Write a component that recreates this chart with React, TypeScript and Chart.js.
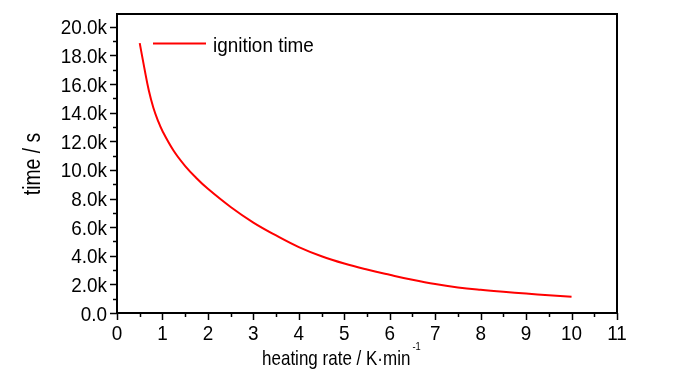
import React, { useEffect, useRef } from "react";
import { Chart, registerables } from "chart.js";

Chart.register(...registerables);

const heatingRate = [0.5, 0.6, 0.7, 0.8, 0.9, 1.0, 1.25, 1.5, 1.75, 2, 2.5, 3, 3.5, 4, 4.5, 5, 5.5, 6, 6.5, 7, 7.5, 8, 8.5, 9, 9.5, 10];
const ignitionTime = [18860, 17150, 15550, 14350, 13450, 12720, 11320, 10270, 9420, 8680, 7410, 6320, 5420, 4610, 3970, 3460, 3040, 2670, 2320, 2020, 1790, 1620, 1480, 1360, 1245, 1140];
const seriesLabel = "ignition time";
const xTickValues = [0, 1, 2, 3, 4, 5, 6, 7, 8, 9, 10, 11];
const yTickValues = [0, 2000, 4000, 6000, 8000, 10000, 12000, 14000, 16000, 18000, 20000];
const xTitle = "heating rate / K·min";
const xTitleSup = "-1";
const yTitle = "time / s";

const FONT = "'Liberation Sans', Arial, sans-serif";

function drawText(ctx: any, text: string, x: number, y: number, size: number, sx: number, align: string) {
  ctx.save();
  ctx.translate(x, y);
  ctx.scale(sx, 1);
  ctx.font = `${size}px ${FONT}`;
  ctx.textAlign = align;
  ctx.textBaseline = "alphabetic";
  ctx.fillStyle = "#000";
  ctx.fillText(text, 0, 0);
  const w = ctx.measureText(text).width * sx;
  ctx.restore();
  return w;
}

const decorPlugin = {
  id: "decor",
  afterDraw(chart: any) {
    const ctx = chart.ctx;
    const { left, right, top, bottom } = chart.chartArea;
    const xs = chart.scales.x;
    const ys = chart.scales.y;
    ctx.save();
    ctx.strokeStyle = "#000";
    ctx.lineWidth = 2;
    ctx.strokeRect(left, top, right - left, bottom - top);
    ctx.lineWidth = 1.5;
    // x ticks (major + minor)
    for (let v = 0; v <= 11.001; v += 0.5) {
      const px = Math.round(xs.getPixelForValue(v)) + 0.5;
      const major = Math.abs(v - Math.round(v)) < 1e-6;
      ctx.beginPath();
      ctx.moveTo(px, bottom);
      ctx.lineTo(px, bottom + (major ? 7 : 4));
      ctx.stroke();
    }
    // y ticks (major + minor)
    for (let v = 0; v <= 20000; v += 1000) {
      const py = Math.round(ys.getPixelForValue(v)) + 0.5;
      const major = v % 2000 === 0;
      ctx.beginPath();
      ctx.moveTo(left, py);
      ctx.lineTo(left - (major ? 7 : 4), py);
      ctx.stroke();
    }
    ctx.restore();
    // tick labels
    xTickValues.forEach((v) => {
      drawText(ctx, String(v), xs.getPixelForValue(v), 340, 21, 0.9, "center");
    });
    yTickValues.forEach((v) => {
      const label = v === 0 ? "0.0" : (v / 1000).toFixed(1) + "k";
      drawText(ctx, label, 107, ys.getPixelForValue(v) + 7.5, 21, 0.9, "right");
    });
    // legend
    const ds = chart.data.datasets[0];
    ctx.save();
    ctx.strokeStyle = ds.borderColor;
    ctx.lineWidth = 2;
    ctx.beginPath();
    ctx.moveTo(153, 43.5);
    ctx.lineTo(206, 43.5);
    ctx.stroke();
    ctx.restore();
    drawText(ctx, ds.label, 213, 52, 21, 0.9, "left");
    // x title
    const w = drawText(ctx, xTitle, 262, 365, 21, 0.81, "left");
    drawText(ctx, xTitleSup, 262 + w + 2, 350, 11, 0.85, "left");
    // y title
    ctx.save();
    ctx.translate(40, 164);
    ctx.rotate(-Math.PI / 2);
    drawText(ctx, yTitle, 0, 0, 23, 0.84, "center");
    ctx.restore();
  },
};

export default function App() {
  const ref = useRef<HTMLCanvasElement | null>(null);
  useEffect(() => {
    if (!ref.current) return;
    const chart = new Chart(ref.current, {
      type: "line",
      data: {
        datasets: [
          {
            label: seriesLabel,
            data: heatingRate.map((x, i) => ({ x, y: ignitionTime[i] })),
            borderColor: "#ff0000",
            borderWidth: 2,
            pointRadius: 0,
            tension: 0.4,
            fill: false,
          },
        ],
      },
      options: {
        animation: false,
        responsive: false,
        layout: { padding: { left: 0, top: 14, right: 83, bottom: 0 } },
        plugins: { legend: { display: false }, tooltip: { enabled: false } },
        scales: {
          x: {
            type: "linear",
            min: 0,
            max: 11,
            grid: { display: false },
            border: { display: false },
            ticks: { display: false },
            afterBuildTicks: (s: any) => {
              s.ticks = xTickValues.map((v) => ({ value: v }));
            },
            afterFit: (s: any) => {
              s.height = 61;
            },
          },
          y: {
            type: "linear",
            min: 0,
            max: 20900,
            grid: { display: false },
            border: { display: false },
            ticks: { display: false },
            afterBuildTicks: (s: any) => {
              s.ticks = yTickValues.map((v) => ({ value: v }));
            },
            afterFit: (s: any) => {
              s.width = 117;
            },
          },
        },
      },
      plugins: [decorPlugin],
    } as any);
    return () => chart.destroy();
  }, []);
  return (
    <div style={{ position: "fixed", left: 0, top: 0, width: 700, height: 374, background: "#fff" }}>
      <canvas ref={ref} width={700} height={374} />
    </div>
  );
}
